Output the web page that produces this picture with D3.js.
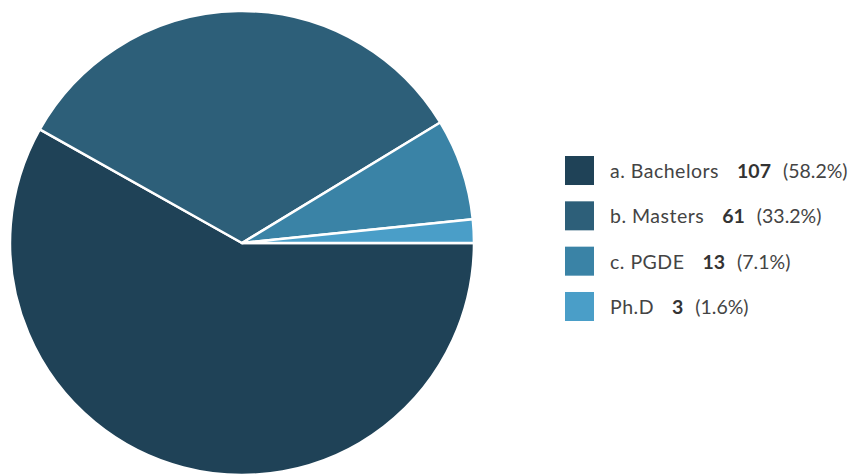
<!DOCTYPE html>
<html><head><meta charset="utf-8">
<script src="https://cdn.jsdelivr.net/npm/d3@7"></script>
<style>body{margin:0;background:#fff;} svg{display:block;}</style>
</head><body>
<script>
const categories = ["a. Bachelors", "b. Masters", "c. PGDE", "Ph.D"];
const values = [107, 61, 13, 3];
const percents = ["58.2%", "33.2%", "7.1%", "1.6%"];
const colors = ["#1f4257", "#2d5f79", "#3a83a6", "#4a9ec8"];

const W = 854, H = 475;
const svg = d3.select("body").append("svg").attr("width", W).attr("height", H);
const cx = 242, cy = 243, R = 232;

const data = categories.map((c, i) => ({c, v: values[i], p: percents[i], col: colors[i]}));
const pie = d3.pie().value(d => d.v).sort(null).startAngle(Math.PI/2).endAngle(Math.PI/2 + 2*Math.PI);
const arc = d3.arc().innerRadius(0).outerRadius(R);

svg.append("g").attr("transform", `translate(${cx},${cy})`)
  .selectAll("path").data(pie(data)).join("path")
  .attr("d", arc).attr("fill", d => d.data.col)
  .attr("stroke", "#fff").attr("stroke-width", 2.5).attr("stroke-linejoin", "round");

const y = d3.scaleBand().domain(categories).range([156, 321]).paddingInner(0.36);
const lg = svg.append("g");
const rows = lg.selectAll("g").data(data).join("g")
  .attr("transform", d => `translate(565,${y(d.c)})`);
rows.append("rect").attr("width", 29).attr("height", y.bandwidth()).attr("fill", d => d.col);
const t = rows.append("text").attr("x", 45).attr("y", 22)
  .attr("font-family", "Lato, sans-serif").attr("font-size", 19.5).attr("fill", "#444");
t.append("tspan").attr("letter-spacing", 0.5).text(d => d.c);
t.append("tspan").attr("dx", 18).attr("font-weight", "bold").attr("fill", "#333").text(d => d.v);
t.append("tspan").attr("dx", 12).text(d => "(" + d.p + ")");
</script>
</body></html>
